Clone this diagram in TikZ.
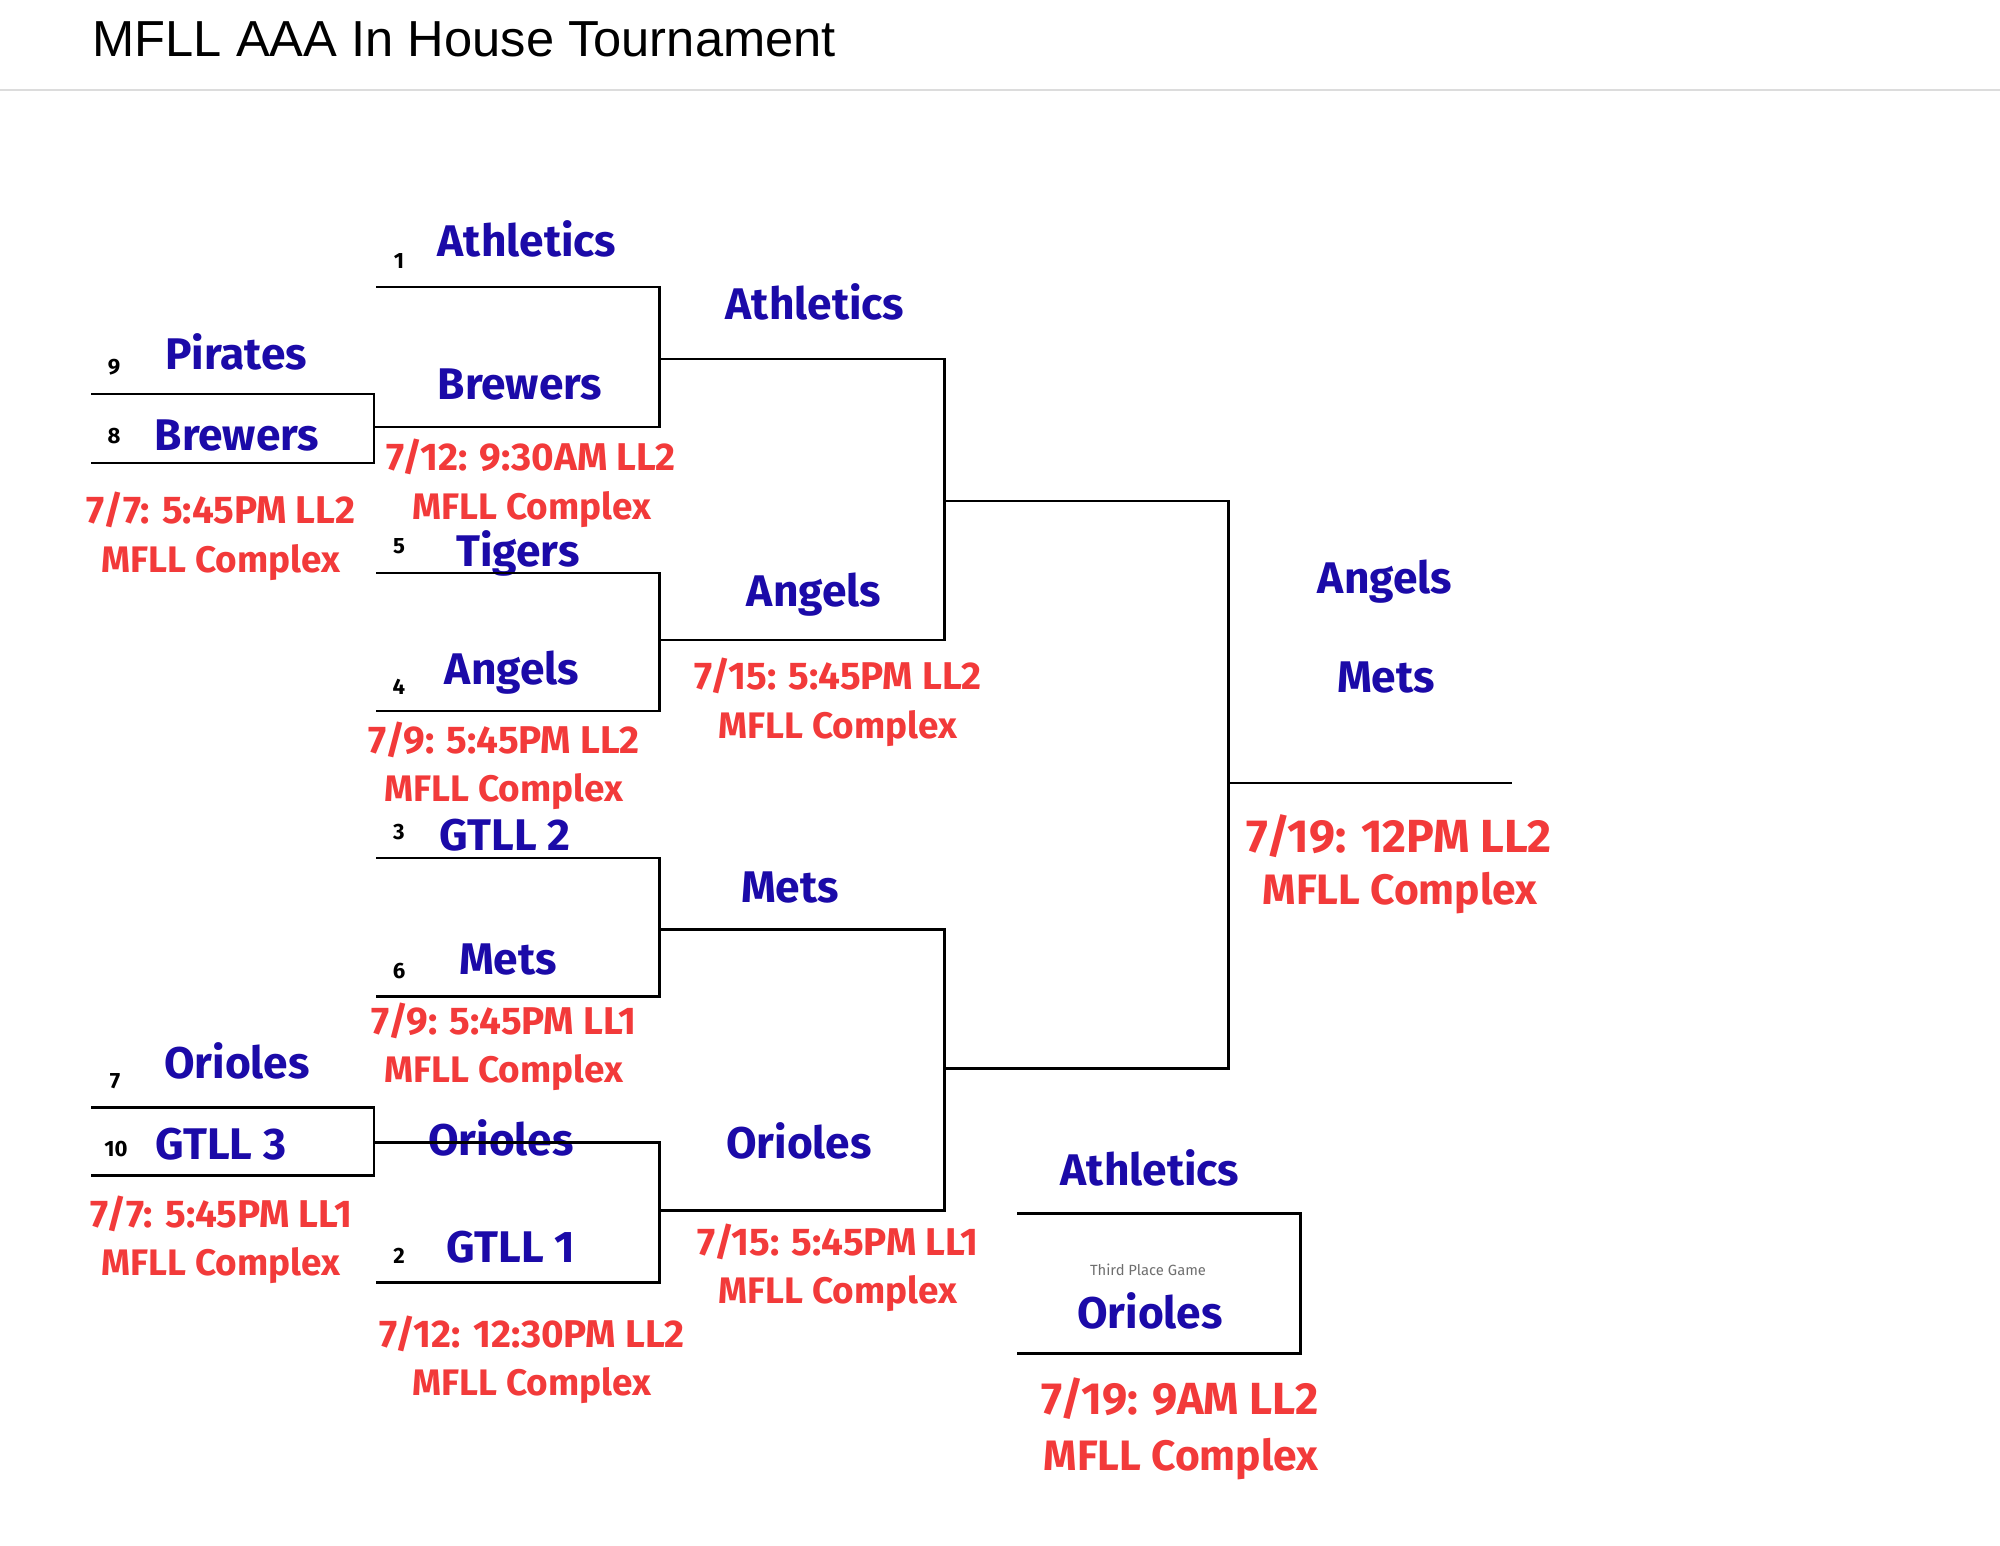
\documentclass[tikz,border=0pt]{standalone}
\usepackage{fontspec}
\setmainfont{Fira Sans}
\newfontfamily\titlefont{Liberation Sans}
\usetikzlibrary{positioning}

\definecolor{teamblue}{RGB}{27,10,168}
\definecolor{slotred}{RGB}{242,58,58}
\definecolor{rulegray}{RGB}{220,220,220}
\definecolor{notegray}{RGB}{110,110,110}

\begin{document}
\begin{tikzpicture}[
        x=0.01cm, y=-0.01cm,
        every node/.style={inner sep=0pt, anchor=base},
        team/.style={font=\fontsize{12.6pt}{14pt}\selectfont\bfseries, text=teamblue},
        seed/.style={font=\fontsize{6.3pt}{7pt}\selectfont\bfseries},
        slot/.style={font=\fontsize{11pt}{12pt}\selectfont\bfseries, text=slotred},
        site/.style={font=\fontsize{10.5pt}{12pt}\selectfont\bfseries, text=slotred},
        bigslot/.style={font=\fontsize{13.2pt}{14pt}\selectfont\bfseries, text=slotred},
        bigsite/.style={font=\fontsize{12.1pt}{14pt}\selectfont\bfseries, text=slotred},
        thirdslot/.style={font=\fontsize{12.8pt}{14pt}\selectfont\bfseries, text=slotred},
        bracket/.style={line width=0.85pt}
    ]
    \useasboundingbox (0,0) rectangle (2000,1546);

    % Header
    \node (title)[anchor=base west, font=\titlefont\fontsize{14.4pt}{17pt}\selectfont] at (92,57) {MFLL AAA In House Tournament};
    \draw[rulegray, line width=0.6pt] (0,90) -- (2000,90);

    % Seeds
    \node (n1)[seed] at (399,269) {1};
    \node (n9)[seed] at (114,375) {9};
    \node (n8)[seed] at (114,444) {8};
    \node (n5)[seed] at (399,554) {5};
    \node (n4)[seed] at (399,694) {4};
    \node (n3)[seed] at (399,839) {3};
    \node (n6)[seed] at (399,978) {6};
    \node (n7)[seed] at (115,1088) {7};
    \node (n10)[seed] at (116,1156) {10};
    \node (n2)[seed] at (399,1263) {2};

    % Round 1
    \node (pirates)[team] at (236,370) {Pirates};
    \node (brewersA)[team] at (237,451) {Brewers};
    \node (oriolesA)[team] at (237,1078) {Orioles};
    \node (gtllC)[team] at (221,1159) {GTLL 3};
    \node (slotA)[slot] at (221,524) {7/7: 5:45PM LL2};
    \node (siteA)[site] at (221,572) {MFLL Complex};
    \node (slotB)[slot] at (221,1227) {7/7: 5:45PM LL1};
    \node (siteB)[site] at (221,1275) {MFLL Complex};

    % Round 2
    \node (athleticsA)[team] at (527,257) {Athletics};
    \node (brewersB)[team] at (520,400) {Brewers};
    \node (tigers)[team] at (518,566) {Tigers};
    \node (angelsA)[team] at (512,684) {Angels};
    \node (gtllB)[team] at (505,850) {GTLL 2};
    \node (metsA)[team] at (508,974) {Mets};
    \node (oriolesB)[team] at (501,1155) {Orioles};
    \node (gtllA)[team] at (511,1262) {GTLL 1};
    \node (slotC)[slot] at (531,471) {7/12: 9:30AM LL2};
    \node (siteC)[site] at (532,519) {MFLL Complex};
    \node (slotD)[slot] at (504,753) {7/9: 5:45PM LL2};
    \node (siteD)[site] at (504,801) {MFLL Complex};
    \node (slotE)[slot] at (504,1034) {7/9: 5:45PM LL1};
    \node (siteE)[site] at (504,1082) {MFLL Complex};
    \node (slotF)[slot] at (532,1347) {7/12: 12:30PM LL2};
    \node (siteF)[site] at (532,1395) {MFLL Complex};

    % Round 3
    \node (athleticsB)[team] at (815,320) {Athletics};
    \node (angelsB)[team] at (814,606) {Angels};
    \node (metsB)[team] at (790,902) {Mets};
    \node (oriolesC)[team] at (799,1158) {Orioles};
    \node (slotG)[slot] at (838,689) {7/15: 5:45PM LL2};
    \node (siteG)[site] at (838,738) {MFLL Complex};
    \node (slotH)[slot] at (838,1255) {7/15: 5:45PM LL1};
    \node (siteH)[site] at (838,1303) {MFLL Complex};

    % Final and third place
    \node (angelsC)[team] at (1385,593) {Angels};
    \node (metsC)[team] at (1386,692) {Mets};
    \node (slotI)[bigslot] at (1399,852) {7/19: 12PM LL2};
    \node (siteI)[bigsite] at (1400,904) {MFLL Complex};
    \node (athleticsC)[team] at (1150,1185) {Athletics};
    \node (thirdnote)[font=\fontsize{4.2pt}{5pt}\selectfont, text=notegray] at (1148,1275) {Third Place Game};
    \node (oriolesD)[team] at (1150,1328) {Orioles};
    \node (slotJ)[thirdslot] at (1180,1414) {7/19: 9AM LL2};
    \node (siteJ)[bigsite] at (1181,1470) {MFLL Complex};

    % Bracket points
    \coordinate (p9) at (91,394);
    \coordinate (p8) at (91,463);
    \coordinate (g1) at (374,427);
    \coordinate (p7) at (91,1107);
    \coordinate (p10) at (91,1175);
    \coordinate (g2) at (374,1142);
    \coordinate (s1) at (376,287);
    \coordinate (s5) at (376,573);
    \coordinate (s4) at (376,711);
    \coordinate (s3) at (376,858);
    \coordinate (s6) at (376,996);
    \coordinate (s2) at (376,1282);
    \coordinate (g5) at (659,359);
    \coordinate (g6) at (659,640);
    \coordinate (g7) at (659,929);
    \coordinate (g8) at (659,1210);
    \coordinate (g9) at (944,501);
    \coordinate (g10) at (944,1068);
    \coordinate (g11) at (1228,783);
    \coordinate (champ) at (1512,783);
    \coordinate (t1) at (1017,1213);
    \coordinate (t2) at (1017,1353);
    \coordinate (t3) at (1300,1283);

    % Edges
    \draw[bracket] (p9) -| (g1) |- (p8);
    \draw[bracket] (p7) -| (g2) |- (p10);
    \draw[bracket] (s1) -| (g5) |- (g1);
    \draw[bracket] (s5) -| (g6) |- (s4);
    \draw[bracket] (s3) -| (g7) |- (s6);
    \draw[bracket] (g2) -| (g8) |- (s2);
    \draw[bracket] (g5) -| (g9) |- (g6);
    \draw[bracket] (g7) -| (g10) |- (g8);
    \draw[bracket] (g9) -| (g11) |- (g10);
    \draw[bracket] (g11) -- (champ);
    \draw[bracket] (t1) -| (t3) |- (t2);

\end{tikzpicture}
\end{document}
